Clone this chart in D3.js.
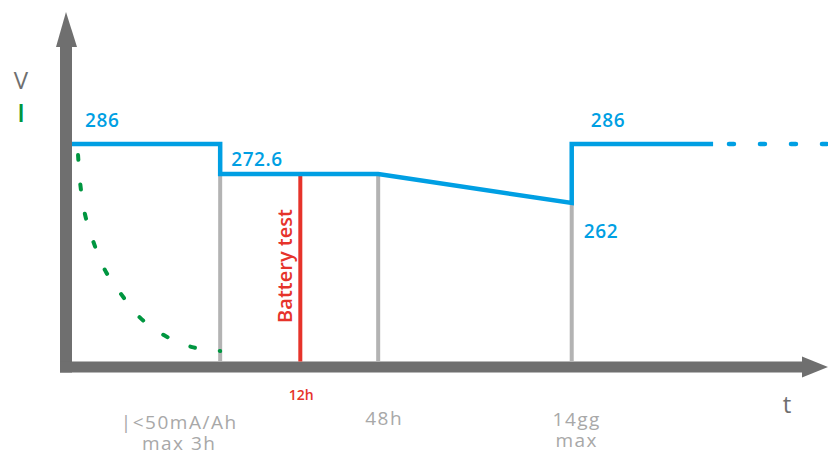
<!DOCTYPE html>
<html>
<head>
<meta charset="utf-8">
<script src="https://cdn.jsdelivr.net/npm/d3@7/dist/d3.min.js"></script>
<style>
    body { margin: 0; background: #fff; }
    text { font-family: "Open Sans", sans-serif; }
</style>
</head>
<body>
<div id="chart"></div>
<script>
/// time axis milestones (schematic time units, 0 = start)
var milestoneTimes = [19.6, 30.2, 40.5, 66.1];
var milestoneLabels = [["|<50mA/Ah", "max 3h"], ["12h"], ["48h"], ["14gg", "max"]];

/// voltage trace
var voltageTimes = [0, 19.6, 19.6, 40.5, 66.1, 66.1, 84.8];
var voltageValues = [286, 286, 272.6, 272.6, 262, 286, 286];
var voltageTailTimes = [86.9, 100];
var voltageTailValues = [286, 286];

/// voltage value labels
var voltageLabelTimes = [0, 19.6, 66.1, 66.1];
var voltageLabelValues = [286, 272.6, 286, 262];
var voltageLabelTexts = ["286", "272.6", "286", "262"];

/// current trace (relative %)
var currentTimes = [0.8, 1.1, 1.7, 2.8, 4.4, 6.5, 9.0, 12.2, 15.9, 19.6];
var currentValues = [100, 85, 70, 56, 41, 29, 17, 8, 2, 0];

/// vertical markers
var markerTimes = [19.6, 40.5, 66.1];
var markerTops = [272.6, 272.6, 262];
var testTime = 30.2;
var testTop = 272.6;
var testLabel = "Battery test";

var svgWidth = 828;
var svgHeight = 452;

var axisGray = "#6f6f6f";
var lightGray = "#a8a8a8";
var lineGray = "#b3b3b3";
var blue = "#009fe3";
var green = "#009640";
var red = "#e6332a";

var svg = d3.select("#chart")
    .append("svg")
    .attr("width", svgWidth)
    .attr("height", svgHeight);

var floorY = 361.5;

var xScale = d3.scaleLinear()
    .domain([0, 100])
    .range([72, 828]);

var yScale = d3.scaleLinear()
    .domain([262, 272.6, 286])
    .range([203, 174, 144]);

var iScale = d3.scaleLinear()
    .domain([0, 100])
    .range([351, 155]);

/// axes (thick arrows)
svg.append("rect")
    .attr("x", 60).attr("y", 46)
    .attr("width", 12).attr("height", floorY + 11 - 46)
    .attr("fill", axisGray);
svg.append("path")
    .attr("d", "M56,47 L66,12 L77,47 Z")
    .attr("fill", axisGray);

svg.append("rect")
    .attr("x", 60).attr("y", floorY)
    .attr("width", 743).attr("height", 11)
    .attr("fill", axisGray);
svg.append("path")
    .attr("d", `M802,${floorY - 5} L828,${floorY + 5.5} L802,${floorY + 16} Z`)
    .attr("fill", axisGray);

svg.append("text").text("V")
    .attr("x", 21).attr("y", 89)
    .attr("text-anchor", "middle")
    .attr("font-size", 24)
    .attr("fill", axisGray);
svg.append("text").text("I")
    .attr("x", 21).attr("y", 122)
    .attr("text-anchor", "middle")
    .attr("font-size", 25)
    .attr("font-weight", 600)
    .attr("fill", green);
svg.append("text").text("t")
    .attr("x", 787).attr("y", 413)
    .attr("text-anchor", "middle")
    .attr("font-size", 24)
    .attr("fill", axisGray);

/// vertical marker lines
svg.selectAll(".marker")
    .data(markerTimes)
    .enter()
    .append("line")
    .attr("class", "marker")
    .attr("x1", d => xScale(d))
    .attr("x2", d => xScale(d))
    .attr("y1", (d, i) => yScale(markerTops[i]))
    .attr("y2", floorY)
    .attr("stroke", lineGray)
    .attr("stroke-width", 4);

svg.append("line")
    .attr("x1", xScale(testTime))
    .attr("x2", xScale(testTime))
    .attr("y1", yScale(testTop))
    .attr("y2", floorY)
    .attr("stroke", red)
    .attr("stroke-width", 4);

svg.append("text").text(testLabel)
    .attr("transform", `translate(${xScale(testTime) - 8.5},266) rotate(-90)`)
    .attr("text-anchor", "middle")
    .attr("font-size", 20)
    .attr("font-weight", 600)
    .attr("fill", red);

/// current curve
var currentLine = d3.line()
    .x((d, i) => xScale(currentTimes[i]))
    .y(d => iScale(d))
    .curve(d3.curveCatmullRom.alpha(0.5));

svg.append("path")
    .attr("d", currentLine(currentValues))
    .attr("fill", "none")
    .attr("stroke", green)
    .attr("stroke-width", 4)
    .attr("stroke-linecap", "round")
    .attr("stroke-dasharray", "5,24.6");

/// voltage line
var voltageLine = d3.line()
    .x((d, i) => xScale(voltageTimes[i]))
    .y(d => yScale(d));

svg.append("path")
    .attr("d", voltageLine(voltageValues))
    .attr("fill", "none")
    .attr("stroke", blue)
    .attr("stroke-width", 4.5)
    .attr("stroke-linejoin", "miter");

var tailLine = d3.line()
    .x((d, i) => xScale(voltageTailTimes[i]))
    .y(d => yScale(d));

svg.append("path")
    .attr("d", tailLine(voltageTailValues))
    .attr("fill", "none")
    .attr("stroke", blue)
    .attr("stroke-width", 4.5)
    .attr("stroke-linecap", "round")
    .attr("stroke-dasharray", "5,26");

/// voltage labels
var labelOffsets = [[13, -17], [11, -8], [19, -17], [12, 35]];

svg.selectAll(".vlabel")
    .data(voltageLabelTexts)
    .enter()
    .append("text")
    .attr("class", "vlabel")
    .text(d => d)
    .attr("x", (d, i) => xScale(voltageLabelTimes[i]) + labelOffsets[i][0])
    .attr("y", (d, i) => yScale(voltageLabelValues[i]) + labelOffsets[i][1])
    .attr("font-size", 19)
    .attr("font-weight", 600)
    .attr("letter-spacing", 0.6)
    .attr("fill", blue);

/// time labels
var tickShift = [-41, 1, 6, 5];
var tickBase = [[429, 450], [400], [425], [426, 447]];

var ticks = svg.selectAll(".tick")
    .data(milestoneLabels)
    .enter()
    .append("text")
    .attr("class", "tick")
    .attr("text-anchor", "middle")
    .attr("fill", (d, i) => i == 1 ? red : lightGray)
    .attr("font-size", (d, i) => i == 1 ? 14 : 19)
    .attr("font-weight", (d, i) => i == 1 ? 600 : 400)
    .attr("letter-spacing", (d, i) => i == 1 ? 0 : 1.5);

ticks.selectAll("tspan")
    .data((d, i) => d.map((t, j) => ({ t: t, i: i, j: j })))
    .enter()
    .append("tspan")
    .text(d => d.t)
    .attr("x", d => xScale(milestoneTimes[d.i]) + tickShift[d.i])
    .attr("y", d => tickBase[d.i][d.j]);
</script>
</body>
</html>
